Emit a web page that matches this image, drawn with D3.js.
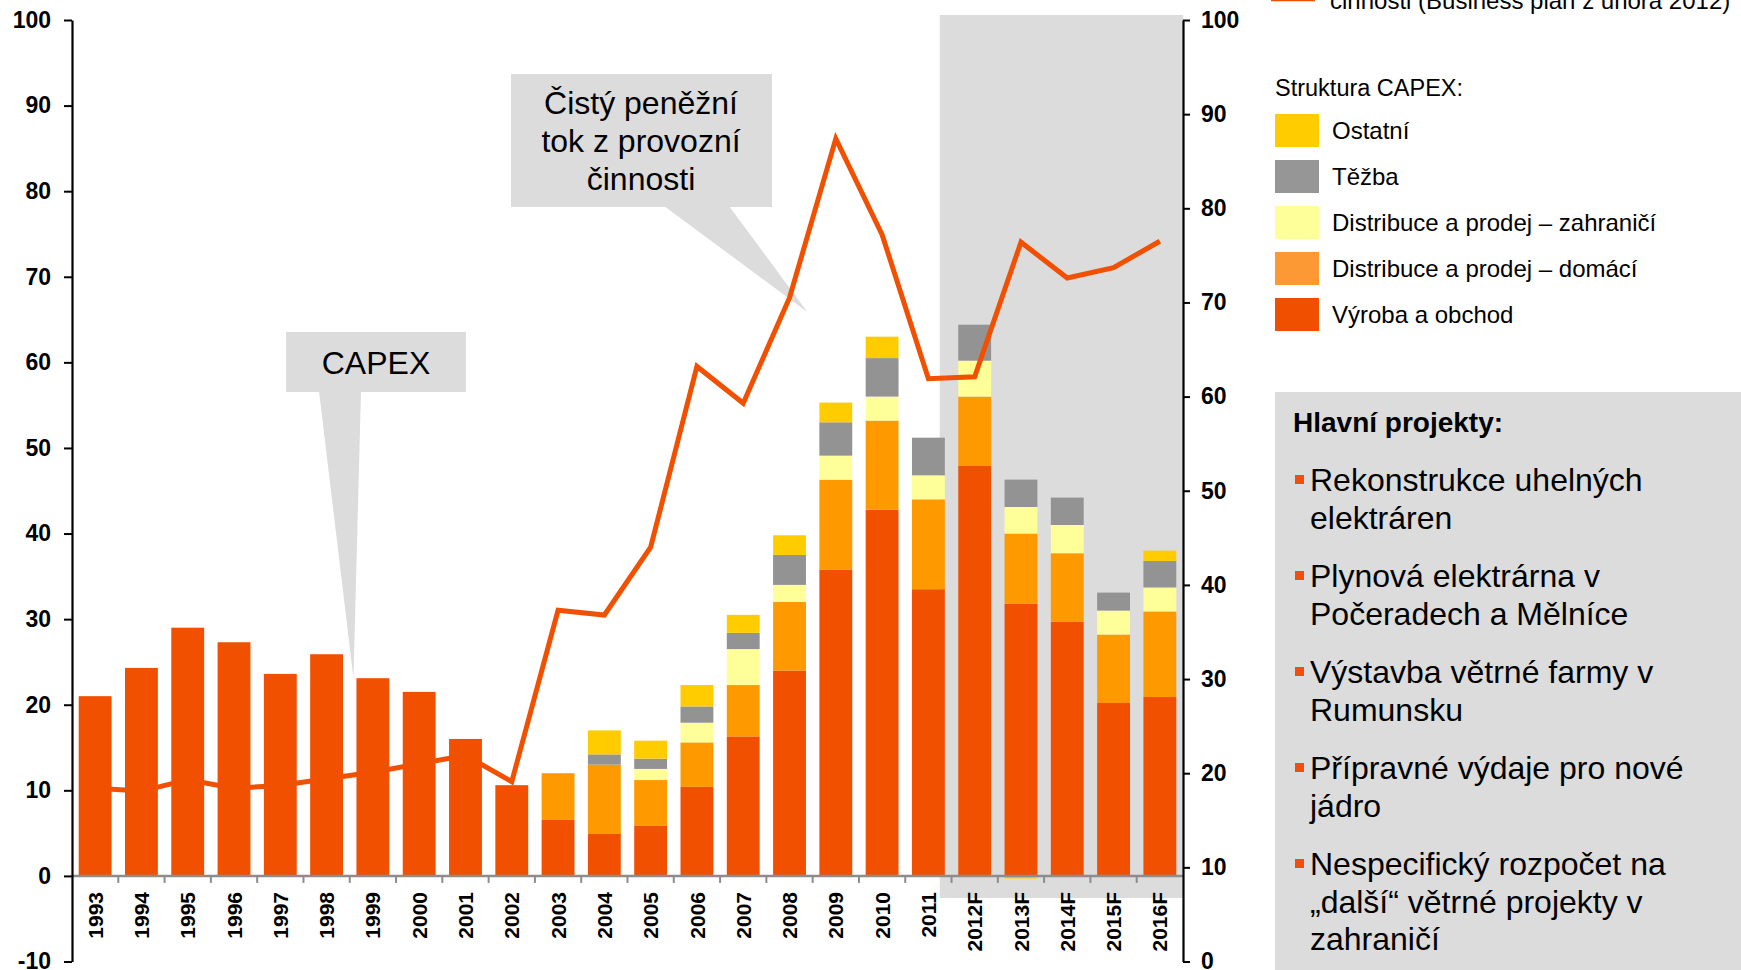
<!DOCTYPE html>
<html>
<head>
<meta charset="utf-8">
<script src="https://cdn.jsdelivr.net/npm/d3@7"></script>
<style>
  body { margin: 0; background: #fff; overflow: hidden; }
  svg { display: block; font-family: "Liberation Sans", Arial, sans-serif; }
</style>
</head>
<body>
<div id="chart"></div>
<script>
// CAPEX (stacked bars, left axis) + Čistý peněžní tok z provozní činnosti (line, right axis)

const years = ["1993","1994","1995","1996","1997","1998","1999","2000","2001","2002","2003","2004",
  "2005","2006","2007","2008","2009","2010","2011","2012F","2013F","2014F","2015F","2016F"];

// Segmenty CAPEX odspodu nahoru
const vyroba    = [21.0,24.3,29.0,27.3,23.6,25.9,23.1,21.5,16.0,10.6,6.6,4.9,5.9,10.4,16.3,24.0,35.8,42.8,33.5,47.9,31.8,29.7,20.2,20.9];
const domaci    = [0,0,0,0,0,0,0,0,0,0,5.4,8.1,5.3,5.2,6.0,8.0,10.5,10.4,10.5,8.1,8.2,8.0,8.0,10.0];
const zahranici = [0,0,0,0,0,0,0,0,0,0,0,0,1.3,2.3,4.2,2.0,2.8,2.8,2.8,4.2,3.1,3.3,2.8,2.8];
const tezba     = [0,0,0,0,0,0,0,0,0,0,0,1.2,1.2,1.9,1.9,3.5,3.9,4.5,4.4,4.2,3.2,3.2,2.1,3.1];
const ostatni   = [0,0,0,0,0,0,0,0,0,0,0,2.8,2.1,2.5,2.1,2.3,2.3,2.5,0,0,-0.3,0,0,1.2];

// Čistý peněžní tok z provozní činnosti (pravá osa)
const cashFlow  = [18.4,18.1,19.3,18.4,18.7,19.4,20.1,21.0,21.9,19.1,37.3,36.8,44.0,63.2,59.3,70.5,87.4,77.2,61.9,62.1,76.4,72.6,73.7,76.5];

const seriesKeys   = ["vyroba","domaci","zahranici","tezba","ostatni"];
const seriesNames  = ["Výroba a obchod","Distribuce a prodej – domácí","Distribuce a prodej – zahraničí","Těžba","Ostatní"];
const seriesColors = ["#f05000","#ff9900","#ffff99","#939393","#ffcc00"];
const legendColors = ["#f04f00","#fd9935","#ffff99","#969696","#ffcc00"];

const leftTicks  = d3.range(-10, 101, 10);
const rightTicks = d3.range(0, 101, 10);
const forecastFrom = "2012F";

const lineLegend = ["Čistý peněžní tok z provozní", "činnosti (Business plán z února 2012)"];
const capexLabel = ["CAPEX"];
const cashLabel  = ["Čistý peněžní", "tok z provozní", "činnosti"];
const projectsTitle = "Hlavní projekty:";
const projects = [
  ["Rekonstrukce uhelných", "elektráren"],
  ["Plynová elektrárna v", "Počeradech a Mělníce"],
  ["Výstavba větrné farmy v", "Rumunsku"],
  ["Přípravné výdaje pro nové", "jádro"],
  ["Nespecifický rozpočet na", "„další“ větrné projekty v", "zahraničí"]
];

const W = 1741, H = 970;
const X0 = 72, X1 = 1183, YT = 20, YB = 961.5;

const svg = d3.select("#chart").append("svg").attr("width", W).attr("height", H);

const x  = d3.scaleBand().domain(years).range([X0, X1]).paddingInner(0.29).paddingOuter(0.145);
const yL = d3.scaleLinear().domain([-10, 100]).range([YB, YT]);
const yR = d3.scaleLinear().domain([0, 100]).range([YB, YT]);
const cx = d => x(d) + x.bandwidth() / 2;

// Tabulka pro stack
const table = years.map((y, i) => ({
  year: y, vyroba: vyroba[i], domaci: domaci[i], zahranici: zahranici[i], tezba: tezba[i], ostatni: ostatni[i]
}));
const stacked = d3.stack().keys(seriesKeys).offset(d3.stackOffsetDiverging)(table);

// ---- šedé pozadí prognózy ----
const shadeX = x(forecastFrom) - x.step() * 0.4;
svg.append("rect")
  .attr("x", shadeX).attr("y", 15)
  .attr("width", X1 - shadeX).attr("height", 898 - 15)
  .attr("fill", "#dcdcdc");

// ---- bubliny ----
const callouts = svg.append("g").attr("fill", "#dcdcdc");
// CAPEX
callouts.append("rect").attr("x", 286).attr("y", 332).attr("width", 180).attr("height", 60);
callouts.append("path").attr("d", d3.line()([[319, 391], [361, 391], [x("1999") - 3, yL(23.1)]]));
// Čistý peněžní tok
callouts.append("rect").attr("x", 511).attr("y", 74).attr("width", 261).attr("height", 133);
callouts.append("path").attr("d", d3.line()([[664, 206], [729, 206], [x("2009") - 12, 312]]));

svg.append("g").selectAll("text").data(capexLabel).join("text")
  .attr("x", 376).attr("y", 374).attr("text-anchor", "middle")
  .style("font-size", "32px").text(d => d);
svg.append("g").selectAll("text").data(cashLabel).join("text")
  .attr("x", 641).attr("y", (d, i) => 114 + i * 38).attr("text-anchor", "middle")
  .style("font-size", "32px").text(d => d);

// ---- sloupce ----
svg.append("g").selectAll("g").data(stacked).join("g")
  .attr("fill", (d, i) => seriesColors[i])
  .selectAll("rect").data(d => d).join("rect")
  .attr("x", d => x(d.data.year))
  .attr("width", x.bandwidth())
  .attr("y", d => yL(Math.max(d[0], d[1])))
  .attr("height", d => Math.abs(yL(d[0]) - yL(d[1])));

// ---- nulová osa + kategorie ----
const y0 = yL(0);
svg.append("line").attr("x1", X0).attr("x2", X1).attr("y1", y0).attr("y2", y0)
  .attr("stroke", "#8c8c8c").attr("stroke-width", 2.5);
svg.append("g").selectAll("line").data(years.slice(1)).join("line")
  .attr("x1", d => x(d) - x.step() * 0.145).attr("x2", d => x(d) - x.step() * 0.145)
  .attr("y1", y0).attr("y2", y0 + 7)
  .attr("stroke", "#8c8c8c").attr("stroke-width", 2);
svg.append("g").selectAll("text").data(years).join("text")
  .attr("transform", d => `translate(${cx(d)},892) rotate(-90)`)
  .attr("dy", "0.36em").attr("text-anchor", "end")
  .style("font-size", "21px").style("font-weight", "700")
  .text(d => d);

// ---- osy ----
const gL = svg.append("g").attr("transform", `translate(${X0},0)`)
  .call(d3.axisLeft(yL).tickValues(leftTicks).tickFormat(d => String(d))
    .tickSize(8).tickSizeOuter(0).tickPadding(13));
const gR = svg.append("g").attr("transform", `translate(${X1},0)`)
  .call(d3.axisRight(yR).tickValues(rightTicks).tickFormat(d => String(d))
    .tickSize(7).tickSizeOuter(0).tickPadding(11));
[gL, gR].forEach(g => {
  g.select(".domain").attr("stroke", "#000").attr("stroke-width", 2.2);
  g.selectAll(".tick line").attr("stroke", "#000").attr("stroke-width", 2);
  g.selectAll(".tick text").attr("fill", "#000")
    .style("font-family", "'Liberation Sans', Arial, sans-serif")
    .style("font-size", "23px").style("font-weight", "700");
});

// ---- čára ----
svg.append("path")
  .datum(cashFlow)
  .attr("fill", "none").attr("stroke", "#f05000").attr("stroke-width", 5)
  .attr("d", d3.line().x((d, i) => cx(years[i])).y(d => yR(d)));

// ---- legenda ----
svg.append("line").attr("x1", 1271).attr("x2", 1315).attr("y1", -1).attr("y2", -1)
  .attr("stroke", "#f05000").attr("stroke-width", 4.5);
svg.append("g").selectAll("text").data(lineLegend).join("text")
  .attr("x", 1330).attr("y", (d, i) => 9 - (lineLegend.length - 1 - i) * 29)
  .style("font-size", "24px").text(d => d);

svg.append("text").attr("x", 1275).attr("y", 96).style("font-size", "23.5px").text("Struktura CAPEX:");
const legendOrder = [4, 3, 2, 1, 0];
const lg = svg.append("g").selectAll("g").data(legendOrder).join("g")
  .attr("transform", (d, i) => `translate(1275,${114 + i * 46})`);
lg.append("rect").attr("width", 44).attr("height", 33).attr("fill", d => legendColors[d]);
lg.append("text").attr("x", 57).attr("y", 25).style("font-size", "24px").text(d => seriesNames[d]);

// ---- hlavní projekty ----
svg.append("rect").attr("x", 1275).attr("y", 392).attr("width", W - 1275).attr("height", H - 392)
  .attr("fill", "#dcdcdc");
svg.append("text").attr("x", 1293).attr("y", 432)
  .style("font-size", "28px").style("font-weight", "700").text(projectsTitle);

let base = 491;
projects.forEach(lines => {
  svg.append("rect").attr("x", 1295).attr("y", base - 16).attr("width", 9).attr("height", 9)
    .attr("fill", "#f05000");
  lines.forEach((t, j) => {
    svg.append("text").attr("x", 1310).attr("y", base + j * 37.6)
      .style("font-size", "32px").text(t);
  });
  base += 96;
});
</script>
</body>
</html>
